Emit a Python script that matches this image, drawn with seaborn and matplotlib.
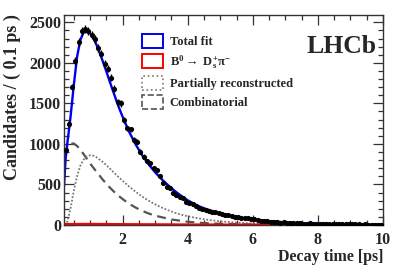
import numpy as np
import pandas as pd
import matplotlib
matplotlib.use("Agg")
import matplotlib.pyplot as plt
from matplotlib.patches import Patch
from matplotlib.ticker import MultipleLocator
import seaborn as sns

# data points (0.1 ps bins)
bin_t = [round(0.25 + 0.1 * i, 2) for i in range(98)]
counts = [924, 1244, 1703, 2023, 2257, 2389, 2422, 2393, 2345, 2295,
          2180, 2114, 1990, 1930, 1814, 1683, 1511, 1499, 1300, 1191,
          1178, 1047, 1026, 903, 841, 790, 760, 698, 677, 600,
          513, 472, 452, 390, 369, 349, 329, 287, 275, 259,
          234, 206, 195, 185, 172, 164, 155, 144, 135, 125,
          118, 111, 102, 98, 90, 83, 82, 72, 68, 62,
          53, 50, 44, 40, 35, 33, 30, 32, 28, 24,
          21, 20, 23, 18, 17, 19, 14, 15, 13, 14,
          11, 12, 10, 11, 9, 10, 8, 9, 7, 8,
          7, 6, 7, 6, 5, 6, 5, 5]

# fit curves
fit_t = [0.2, 0.25, 0.3, 0.4, 0.5, 0.6, 0.7, 0.8, 0.9, 1.0, 1.1, 1.2, 1.3, 1.4,
         1.5, 1.6, 1.7, 1.8, 1.9, 2.0, 2.2, 2.4, 2.6, 2.8, 3.0, 3.2, 3.4, 3.6,
         3.8, 4.0, 4.2, 4.4, 4.6, 4.8, 5.0, 5.2, 5.4, 5.6, 5.8, 6.0, 6.5, 7.0,
         7.5, 8.0, 8.5, 9.0, 9.5, 10.0]
total_fit = [480, 820, 1000, 1330, 1720, 2070, 2280, 2375, 2390, 2365, 2310, 2220,
             2120, 2010, 1895, 1775, 1660, 1545, 1435, 1335, 1150, 995, 860, 748,
             650, 565, 490, 420, 360, 305, 260, 222, 192, 166, 143, 124, 108, 94,
             81, 70, 47, 32, 22, 15, 11, 8, 6, 5]

comb_t = [0.2, 0.3, 0.4, 0.5, 0.6, 0.7, 0.8, 1.0, 1.2, 1.4, 1.6, 1.8, 2.0, 2.2,
          2.4, 2.6, 2.8, 3.0, 3.5, 4.0, 4.5, 5.0, 6.0, 7.0, 8.0, 10.0]
combinatorial = [860, 960, 1005, 1005, 975, 930, 875, 760, 655, 555, 465, 385,
                 320, 262, 215, 175, 142, 115, 68, 40, 24, 15, 6, 3, 1, 0]

part_t = [0.2, 0.3, 0.4, 0.5, 0.6, 0.7, 0.8, 0.9, 1.0, 1.1, 1.2, 1.4, 1.6, 1.8,
          2.0, 2.2, 2.4, 2.6, 2.8, 3.0, 3.2, 3.4, 3.6, 3.8, 4.0, 4.5, 5.0, 5.5,
          6.0, 7.0, 8.0, 9.0, 10.0]
partial = [0, 40, 200, 420, 600, 730, 805, 845, 860, 855, 835, 775, 700, 620,
           545, 475, 410, 352, 300, 255, 215, 182, 152, 128, 107, 70, 45, 29,
           19, 8, 3, 1, 0]

sig_t = [0.2, 1.0, 2.0, 4.0, 6.0, 10.0]
signal = [8, 10, 7, 3, 1, 0]

sns.set_style("ticks")
plt.rcParams["font.family"] = ["Liberation Serif", "DejaVu Serif"]
plt.rcParams["font.weight"] = "bold"
plt.rcParams["mathtext.fontset"] = "custom"
plt.rcParams["mathtext.rm"] = "Liberation Serif:bold"
plt.rcParams["mathtext.it"] = "Liberation Serif:bold"
plt.rcParams["mathtext.bf"] = "Liberation Serif:bold"
plt.rcParams["mathtext.default"] = "rm"

fig = plt.figure(figsize=(3.99, 2.70), dpi=100)
ax = fig.add_axes([64 / 399, 45 / 270, 319 / 399, 210 / 270])

sns.lineplot(x=comb_t, y=combinatorial, ax=ax, color="#555555", lw=1.6,
             linestyle=(0, (4, 2.5)), label="_c")
sns.lineplot(x=part_t, y=partial, ax=ax, color="#777777", lw=1.3,
             linestyle=(0, (1, 1)), label="_p")
sns.lineplot(x=sig_t, y=signal, ax=ax, color="red", lw=2, label="_s")
sns.lineplot(x=fit_t, y=total_fit, ax=ax, color="#0000ee", lw=1.7, label="_t")

err = np.sqrt(counts)
ax.errorbar(bin_t, counts, yerr=err, fmt="none", ecolor="black", elinewidth=1)
sns.scatterplot(x=bin_t, y=counts, ax=ax, color="black", s=14, linewidth=0,
                zorder=5)

ax.set_xlim(0.2, 10.0)
ax.set_ylim(0, 2590)
ax.xaxis.set_major_locator(MultipleLocator(2))
ax.xaxis.set_minor_locator(MultipleLocator(0.5))
ax.yaxis.set_major_locator(MultipleLocator(500))
ax.yaxis.set_minor_locator(MultipleLocator(100))
ax.tick_params(which="both", direction="in", top=True, right=True,
               labelsize=11.5, width=0.9, color="#333333")
ax.tick_params(which="major", length=7)
ax.tick_params(which="minor", length=3.5)
ax.tick_params(axis="x", pad=5)
ax.tick_params(axis="y", pad=2)
for s in ax.spines.values():
    s.set_linewidth(1.0)
    s.set_color("#333333")

fig.text(12 / 399, 1 - 14 / 270, "Candidates / ( 0.1 ps )", rotation=90,
         ha="center", va="top", fontsize=13, fontweight="bold")
ax.set_xlabel("Decay time [ps]", fontsize=11.5, fontweight="bold", loc="right")
ax.xaxis.set_label_coords(1.0, -0.115)

ax.text(0.98, 0.85, "LHCb", transform=ax.transAxes, ha="right", va="center",
        fontsize=18.5, fontweight="bold")

handles = [
    Patch(facecolor="none", edgecolor="#0000ee", lw=1.4, label="Total fit"),
    Patch(facecolor="none", edgecolor="red", lw=1.4,
          label=r"B$^{0}$$\rightarrow$ D$_{s}^{+}$$\pi^{-}$"),
    Patch(facecolor="none", edgecolor="#777777", lw=1.2, linestyle=":",
          label="Partially reconstructed"),
    Patch(facecolor="none", edgecolor="#555555", lw=1.2, linestyle="--",
          label="Combinatorial"),
]
ax.legend(handles=handles, loc="upper left", bbox_to_anchor=(0.245, 0.91),
          frameon=False, fontsize=9, handlelength=1.7, handleheight=1.3,
          labelspacing=0.42, handletextpad=0.5, borderpad=0, borderaxespad=0)

fig.savefig("out.png", dpi=100)
